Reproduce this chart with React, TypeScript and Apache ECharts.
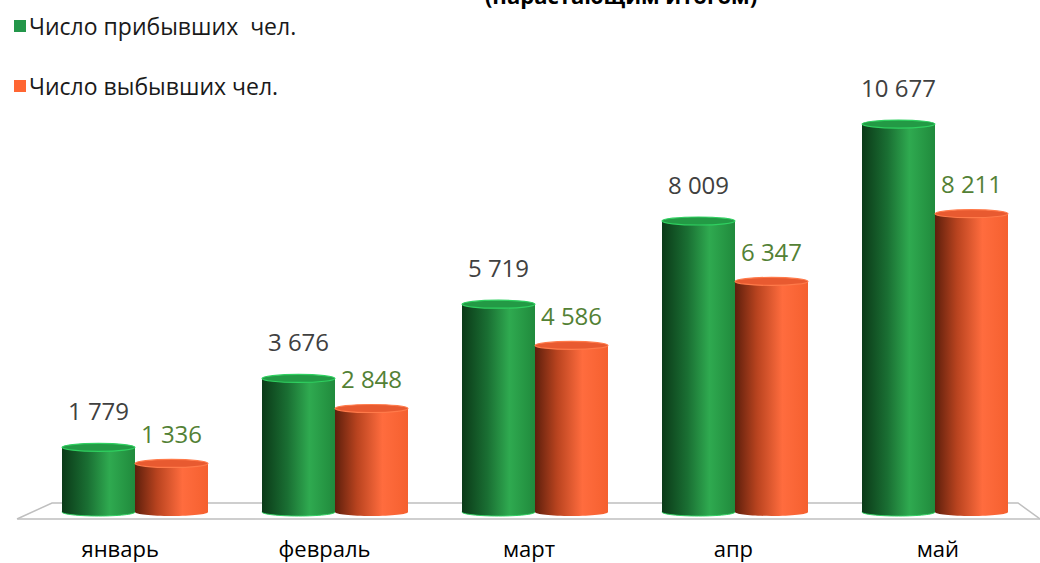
import React, { useEffect, useRef } from "react";
import * as echarts from "echarts";

const categories = ["январь", "февраль", "март", "апр", "май"];
const arrivedName = "Число прибывших  чел.";
const departedName = "Число выбывших чел.";
const arrived = [1779, 3676, 5719, 8009, 10677];
const departed = [1336, 2848, 4586, 6347, 8211];
const titleText = "(нарастающим итогом)";

const FONT = "'Open Sans', 'Noto Sans', sans-serif";

function fmt(v: number): string {
  return String(v).replace(/\B(?=(\d{3})+(?!\d))/g, " ");
}

const greenGrad = () =>
  new echarts.graphic.LinearGradient(0, 0, 1, 0, [
    { offset: 0, color: "#0b3a18" },
    { offset: 0.35, color: "#1a6f33" },
    { offset: 0.65, color: "#2faa50" },
    { offset: 1, color: "#208a3c" },
  ]);
const orangeGrad = () =>
  new echarts.graphic.LinearGradient(0, 0, 1, 0, [
    { offset: 0, color: "#5e1f0c" },
    { offset: 0.3, color: "#b8431f" },
    { offset: 0.65, color: "#ff6c3e" },
    { offset: 1, color: "#f5602f" },
  ]);

function makeRender(side: number) {
  return (params: any, api: any) => {
    const cat = api.value(0);
    const val = api.value(1);
    const top = api.coord([cat, val]);
    const base = api.coord([cat, 0]);
    const w = 73;
    const x0 = side === 0 ? top[0] - w : top[0];
    const cx = x0 + w / 2;
    const ry = 4;
    const isGreen = side === 0;
    const fill = isGreen ? greenGrad() : orangeGrad();
    const rim = isGreen ? "#2fd060" : "#ff7a4a";
    const topFill = isGreen ? "#239a45" : "#e85a30";
    return {
      type: "group",
      children: [
        {
          type: "ellipse",
          shape: { cx, cy: base[1], rx: w / 2, ry },
          style: { fill, stroke: isGreen ? rim : "none", lineWidth: 1 },
        },
        {
          type: "rect",
          shape: { x: x0, y: top[1], width: w, height: base[1] - top[1] },
          style: { fill },
        },
        {
          type: "ellipse",
          shape: { cx, cy: top[1], rx: w / 2, ry },
          style: { fill: topFill, stroke: rim, lineWidth: 1.2 },
        },
        {
          type: "text",
          style: {
            text: fmt(val),
            x: cx,
            y: top[1] - (isGreen ? 37 : 30),
            align: "center",
            verticalAlign: "middle",
            font: `24px ${FONT}`,
            fill: isGreen ? "#404040" : "#538135",
          },
        },
      ],
    };
  };
}

export default function App() {
  const ref = useRef<HTMLDivElement>(null);
  useEffect(() => {
    document.body.style.margin = "0";
    const chart = echarts.init(ref.current!, null, { renderer: "svg" });
    chart.setOption({
      animation: false,
      backgroundColor: "#ffffff",
      textStyle: { fontFamily: FONT },
      legend: {
        orient: "vertical",
        left: 9,
        top: 9,
        itemWidth: 12,
        itemHeight: 12,
        itemGap: 36,
        icon: "rect",
        data: [arrivedName, departedName],
        textStyle: { fontSize: 23, fontFamily: FONT, color: "#1a1a1a", lineHeight: 24, padding: [0, 0, 0, -2] },
        selectedMode: false,
      },
      graphic: [
        {
          type: "text",
          silent: true,
          style: {
            text: titleText,
            x: 621,
            y: -5,
            align: "center",
            verticalAlign: "middle",
            font: `bold 22px ${FONT}`,
            fill: "#000",
          },
        },
        {
          type: "polyline",
          silent: true,
          z: -1,
          shape: { points: [[17, 519], [52, 503], [1018, 503], [1040, 519]] },
          style: { stroke: "#bfbfbf", lineWidth: 1.5, fill: "none" },
        },
      ],
      grid: [
        { left: 35, right: 5, top: 76, bottom: 51 },
        { left: 18, right: -11, top: 76, bottom: 44 },
      ],
      xAxis: [
        {
          type: "category",
          gridIndex: 0,
          data: categories,
          show: false,
        },
        {
          type: "category",
          gridIndex: 1,
          data: categories,
          axisLine: { lineStyle: { color: "#bfbfbf", width: 1.5 } },
          axisTick: { length: 6, lineStyle: { color: "#bfbfbf", width: 1.5 } },
          axisLabel: { fontSize: 22, fontFamily: FONT, color: "#000", margin: 18 },
        },
      ],
      yAxis: [
        { type: "value", gridIndex: 0, min: 0, max: 12000, show: false },
        { type: "value", gridIndex: 1, min: 0, max: 12000, show: false },
      ],
      series: [
        {
          type: "custom",
          name: arrivedName,
          xAxisIndex: 0,
          yAxisIndex: 0,
          itemStyle: { color: "#23964a" },
          renderItem: makeRender(0),
          data: arrived.map((v, i) => [i, v]),
          encode: { x: 0, y: 1 },
        },
        {
          type: "custom",
          name: departedName,
          xAxisIndex: 0,
          yAxisIndex: 0,
          itemStyle: { color: "#ff6633" },
          renderItem: makeRender(1),
          data: departed.map((v, i) => [i, v]),
          encode: { x: 0, y: 1 },
        },
      ],
    });
    return () => chart.dispose();
  }, []);
  return (
    <div
      ref={ref}
      style={{ position: "fixed", left: 0, top: 0, width: 1040, height: 563 }}
    />
  );
}
